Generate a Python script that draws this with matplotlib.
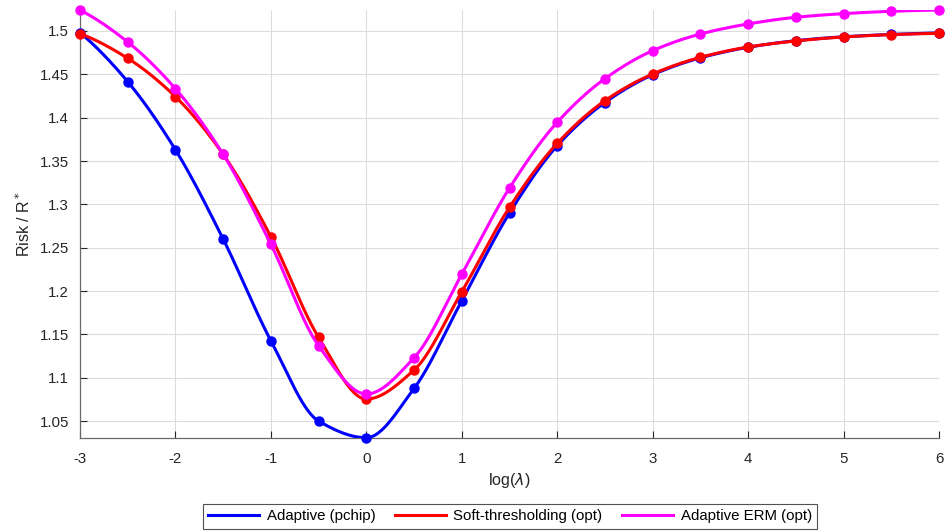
import numpy as np
import matplotlib.pyplot as plt

plt.rcParams["font.family"] = ["Liberation Sans", "DejaVu Sans"]
plt.rcParams["axes.unicode_minus"] = False

log_lambda = [-3, -2.5, -2, -1.5, -1, -0.5, 0, 0.5, 1, 1.5, 2, 2.5, 3,
              3.5, 4, 4.5, 5, 5.5, 6]

adaptive_pchip = [1.498, 1.4415, 1.363, 1.260, 1.1427, 1.050, 1.0308, 1.0877,
                  1.1888, 1.290, 1.3677, 1.4175, 1.4495, 1.4690, 1.4812,
                  1.4888, 1.4933, 1.4960, 1.4978]
soft_thresh = [1.497, 1.4685, 1.4242, 1.3577, 1.2627, 1.1466, 1.0754, 1.1089,
               1.1992, 1.2966, 1.3704, 1.4196, 1.4504, 1.4696, 1.4815,
               1.4885, 1.4931, 1.4958, 1.4973]
adaptive_erm = [1.5242, 1.4873, 1.4334, 1.3577, 1.2539, 1.1369, 1.0812, 1.1230,
                1.2193, 1.3189, 1.3947, 1.4450, 1.4773, 1.4965, 1.5081,
                1.5158, 1.5200, 1.5227, 1.5242]

series = [
    ("Adaptive (pchip)", adaptive_pchip, "#0000ff"),
    ("Soft-thresholding (opt)", soft_thresh, "#ff0000"),
    ("Adaptive ERM (opt)", adaptive_erm, "#ff00ff"),
]


def pchip_curve(x, y, n=600):
    # shape-preserving cubic, only used to draw the smooth line between markers
    x = np.asarray(x, float)
    y = np.asarray(y, float)
    h = np.diff(x)
    d = np.diff(y) / h
    m = np.zeros_like(y)
    for k in range(1, len(x) - 1):
        if d[k - 1] * d[k] > 0:
            w1 = 2 * h[k] + h[k - 1]
            w2 = h[k] + 2 * h[k - 1]
            m[k] = (w1 + w2) / (w1 / d[k - 1] + w2 / d[k])
    m[0] = ((2 * h[0] + h[1]) * d[0] - h[0] * d[1]) / (h[0] + h[1])
    if np.sign(m[0]) != np.sign(d[0]):
        m[0] = 0
    m[-1] = ((2 * h[-1] + h[-2]) * d[-1] - h[-1] * d[-2]) / (h[-1] + h[-2])
    if np.sign(m[-1]) != np.sign(d[-1]):
        m[-1] = 0
    xs = np.linspace(x[0], x[-1], n)
    idx = np.clip(np.searchsorted(x, xs) - 1, 0, len(x) - 2)
    t = (xs - x[idx]) / h[idx]
    h00 = 2 * t**3 - 3 * t**2 + 1
    h10 = t**3 - 2 * t**2 + t
    h01 = -2 * t**3 + 3 * t**2
    h11 = t**3 - t**2
    ys = (h00 * y[idx] + h10 * h[idx] * m[idx] + h01 * y[idx + 1]
          + h11 * h[idx] * m[idx + 1])
    return xs, ys


fig = plt.figure(figsize=(9.48, 5.31), dpi=100)
ax = fig.add_axes([80 / 948, 93 / 531, 859 / 948, 428 / 531])

for label, vals, color in series:
    xs, ys = pchip_curve(log_lambda, vals)
    ax.plot(xs, ys, color=color, lw=2.2, label=label, zorder=3)
    ax.plot(log_lambda, vals, "o", color=color, ms=6.5, zorder=3,
            clip_on=False)

ax.set_xlim(-3, 6)
ax.set_ylim(1.0305, 1.5242)
ax.set_xticks(np.arange(-3, 7, 1))
ax.set_yticks(np.arange(1.05, 1.501, 0.05))
ax.set_yticklabels([f"{v:g}" for v in np.round(np.arange(1.05, 1.501, 0.05), 2)])

ax.spines["top"].set_visible(False)
ax.spines["right"].set_visible(False)
for s in ("left", "bottom"):
    ax.spines[s].set_color("#6a6a6a")
    ax.spines[s].set_linewidth(0.9)
ax.tick_params(direction="in", length=5, width=0.8, colors="#262626",
               labelsize=10.8, labelcolor="#262626")
ax.tick_params(axis="x", pad=10)
ax.tick_params(axis="y", pad=8)
ax.grid(True, color="#dcdcdc", lw=0.8)
ax.set_axisbelow(True)

ax.set_xlabel(r"log($\lambda$)", fontsize=11.5, color="#262626", labelpad=4)
ax.set_ylabel(r"Risk / R$^*$", fontsize=11.5, color="#262626", labelpad=5)

leg = ax.legend(loc="upper center", bbox_to_anchor=(510 / 948, 27 / 531),
                bbox_transform=fig.transFigure, ncol=3, frameon=True,
                fancybox=False, edgecolor="#262626", fontsize=10.8,
                handlelength=3.4, handletextpad=0.5, columnspacing=1.3,
                borderpad=0.35, borderaxespad=0)
leg.get_frame().set_linewidth(0.8)
for line in leg.get_lines():
    line.set_linewidth(2.2)

fig.savefig("out.png", dpi=100)
